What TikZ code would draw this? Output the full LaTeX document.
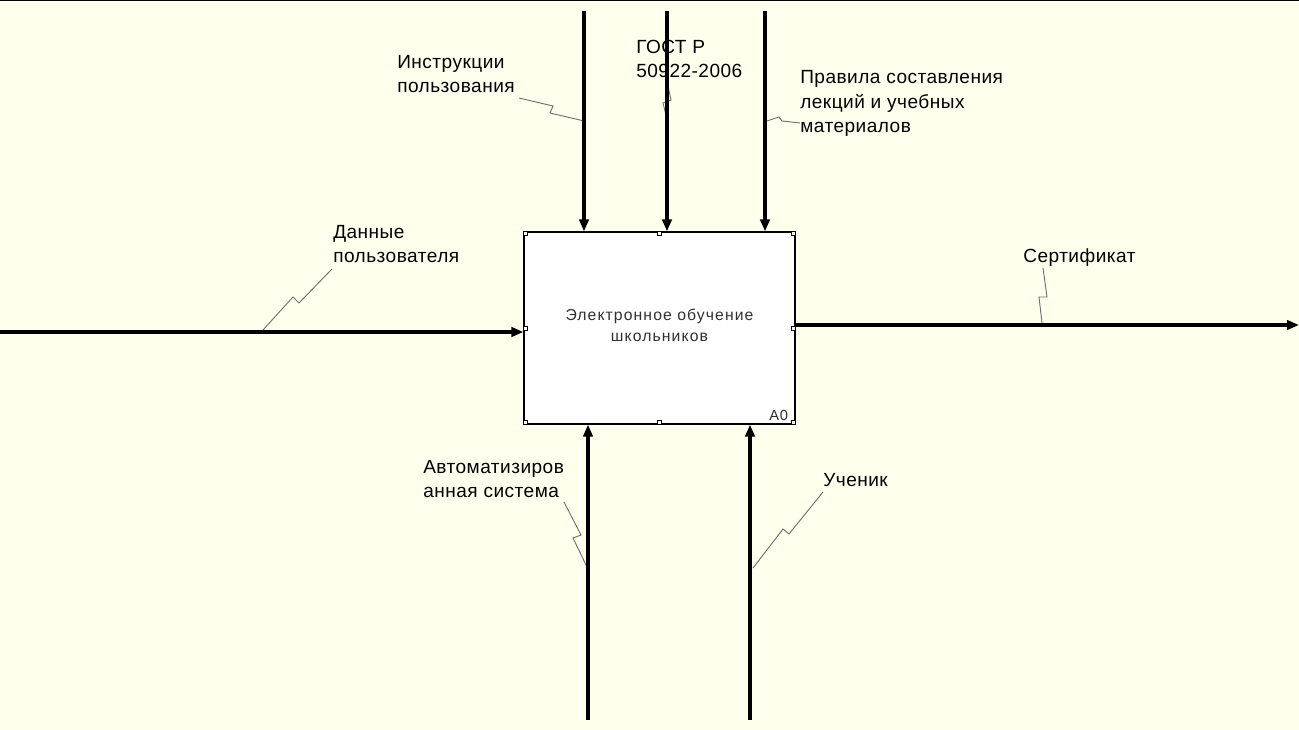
\documentclass[tikz,border=0pt]{standalone}
\usepackage{fontspec}
\setmainfont{Liberation Sans}
\usetikzlibrary{arrows.meta}
\definecolor{bg}{HTML}{FFFFEE}
\definecolor{lead}{HTML}{707070}
\definecolor{boxtext}{HTML}{303030}
\begin{document}
\begin{tikzpicture}[x=0.75pt,y=-0.75pt,
  flow/.style={line width=2.4pt,-{Triangle[length=9pt,width=7pt]}},
  leader/.style={draw=lead,line width=0.7pt},
  lbl/.style={inner sep=0pt,anchor=base west,align=left,
    font=\fontsize{14.3pt}{18.6pt}\selectfont\addfontfeature{LetterSpace=2.5}},
  handle/.style={draw=black,fill=white,line width=0.5pt}]
\fill[bg] (0,0) rectangle (1299,730);
\useasboundingbox (0,0) rectangle (1299,730);
\draw[line width=0.9pt] (0,0.6) -- (1299,0.6);

% box
\node[draw,fill=white,line width=0.8pt,minimum width=203.25pt,minimum height=144pt,
  inner sep=0pt] (box) at (659.5,328) {};
\node[inner sep=0pt,align=center,text=boxtext,
  font=\fontsize{11.8pt}{15.75pt}\selectfont\addfontfeature{LetterSpace=7}]
  (title) at ([yshift=2.2pt]box.center) {Электронное обучение\\школьников};
\node[anchor=base west,inner sep=0pt,text=boxtext,
  font=\fontsize{11pt}{13pt}\selectfont\addfontfeature{LetterSpace=6}]
  (num) at (769,421) {A0};
\draw[handle] (box.north west) rectangle ++(4,4);
\draw[handle] (box.north east) rectangle ++(-4,4);
\draw[handle] (box.south west) rectangle ++(4,-4);
\draw[handle] (box.south east) rectangle ++(-4,-4);
\draw[handle] ([xshift=-1.5pt]box.north) rectangle ++(4,4);
\draw[handle] ([xshift=-1.5pt]box.south) rectangle ++(4,-4);
\draw[handle] ([yshift=1.5pt]box.west) rectangle ++(4,4);
\draw[handle] ([yshift=1.5pt]box.east) rectangle ++(-4,4);

% labels (anchor = baseline of last line)
\node[lbl] (l1) at (397,93) {Инструкции\\пользования};
\node[lbl] (l2) at (636,78) {ГОСТ Р\\50922-2006};
\node[lbl] (l3) at (800,133) {Правила составления\\лекций и учебных\\материалов};
\node[lbl] (l4) at (333,263) {Данные\\пользователя};
\node[lbl] (l5) at (1023,263) {Сертификат};
\node[lbl] (l6) at (423,498) {Автоматизиров\\анная система};
\node[lbl] (l7) at (823,487) {Ученик};

% leaders
\draw[leader] (519,98) -- (553,106) -- (550,113) -- (584,121);
\draw[leader] (668,86) -- (671,100) -- (663,103) -- (666,115);
\draw[leader] (764,122) -- (779,117) -- (782,121) -- (800,123);
\draw[leader] (263,330) -- (293,297) -- (299,303) -- (332,269);
\draw[leader] (1042,323) -- (1039,297) -- (1047,297) -- (1043,268);
\draw[leader] (564,502) -- (581,535) -- (573,538) -- (587,567);
\draw[leader] (823,492) -- (789,534) -- (783,529) -- (753,568);

% arrows
\coordinate (inS) at (0,332);
\coordinate (outE) at (1299,325);
\coordinate (c1) at (584,11);
\coordinate (c2) at (667,11);
\coordinate (c3) at (765,11);
\coordinate (m1) at (588,720);
\coordinate (m2) at (750,720);
\draw[flow] (inS) -- (inS -| box.west);
\draw[flow] (outE -| box.east) -- (outE);
\draw[flow] (c1) -- (c1 |- box.north);
\draw[flow] (c2) -- (c2 |- box.north);
\draw[flow] (c3) -- (c3 |- box.north);
\draw[flow] (m1) -- (m1 |- box.south);
\draw[flow] (m2) -- (m2 |- box.south);
\end{tikzpicture}
\end{document}
